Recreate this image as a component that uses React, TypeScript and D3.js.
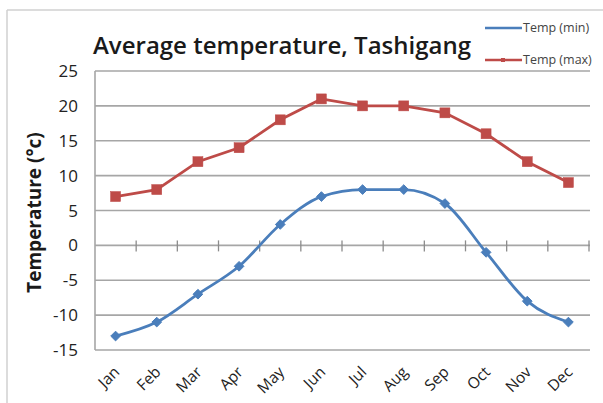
import React from "react";
import * as d3 from "d3";

const months = ["Jan","Feb","Mar","Apr","May","Jun","Jul","Aug","Sep","Oct","Nov","Dec"];
const tempMin = [-13,-11,-7,-3,3,7,8,8,6,-1,-8,-11];
const tempMax = [7,8,12,14,18,21,20,20,19,16,12,9];
const yTicks = [-15,-10,-5,0,5,10,15,20,25];
const seriesNames = ["Temp (min)","Temp (max)"];

const W = 603, H = 403;
const left = 95, right = 589, top = 71, bottom = 350;

export default function App() {
  const x = d3.scaleBand<string>().domain(months).range([left, right]).padding(0);
  const y = d3.scaleLinear().domain([-15, 25]).range([bottom, top]);
  const cx = (m: string) => (x(m) as number) + x.bandwidth() / 2;

  const lineMin = d3.line<number>().x((_, i) => cx(months[i])).y(d => y(d)).curve(d3.curveMonotoneX);
  const lineMax = d3.line<number>().x((_, i) => cx(months[i])).y(d => y(d));

  const blue = "#4a7ebb", red = "#be4b48";
  const font = "'Open Sans', 'DejaVu Sans', sans-serif";

  const boundaries = months.map(m => (x(m) as number) + x.bandwidth());

  return (
    <svg width={W} height={H} style={{ position: "absolute", left: 0, top: 0, background: "#fff" }} fontFamily={font}>
      <rect x={0} y={0} width={W} height={H} fill="#fff" />
      <line x1={7} y1={10} x2={W} y2={10} stroke="#d0d0d0" strokeWidth={1.5} />
      <line x1={7} y1={10} x2={7} y2={H} stroke="#d0d0d0" strokeWidth={1.5} />

      {yTicks.map(t => (
        <g key={t}>
          <line x1={left} x2={right + 1} y1={y(t)} y2={y(t)} stroke="#a6a6a6" strokeWidth={1.6} />
          <text x={78} y={y(t)} dy="0.36em" textAnchor="end" fontSize={17} fontWeight={500} fill="#222">{t}</text>
        </g>
      ))}
      <line x1={left} x2={left} y1={top} y2={bottom} stroke="#a6a6a6" strokeWidth={1.6} />
      {boundaries.map((b, i) => (
        <line key={i} x1={b} x2={b} y1={y(0) - 5} y2={y(0) + 6} stroke="#8c8c8c" strokeWidth={1.3} />
      ))}

      {months.map(m => (
        <text key={m} transform={`translate(${cx(m) + 5},${bottom + 23}) rotate(-45)`} textAnchor="end" fontSize={15.5} fill="#222">{m}</text>
      ))}

      <text transform={`translate(41,${(top + bottom) / 2 + 2}) rotate(-90)`} textAnchor="middle" fontSize={19} fontWeight={700} fill="#1a1a1a">Temperature (°c)</text>
      <text x={93} y={54} fontSize={24} fontWeight={600} fill="#1a1a1a">Average temperature, Tashigang</text>

      <path d={lineMin(tempMin) as string} fill="none" stroke={blue} strokeWidth={2.8} />
      <path d={lineMax(tempMax) as string} fill="none" stroke={red} strokeWidth={2.8} />
      {tempMin.map((v, i) => (
        <path key={i} d={d3.symbol(d3.symbolDiamond2, 60)() as string} transform={`translate(${cx(months[i])},${y(v)})`} fill={blue} stroke={blue} strokeWidth={1} />
      ))}
      {tempMax.map((v, i) => (
        <rect key={i} x={cx(months[i]) - 5} y={y(v) - 5} width={10} height={10} fill={red} stroke={red} strokeWidth={0.5} />
      ))}

      <line x1={485} x2={522} y1={28} y2={28} stroke={blue} strokeWidth={2.5} />
      <text x={523} y={28} dy="0.35em" fontSize={12.5} fill="#444">{seriesNames[0]}</text>
      <line x1={485} x2={522} y1={60} y2={60} stroke={red} strokeWidth={2.5} />
      <rect x={501} y={58} width={4} height={4} fill={red} />
      <text x={523} y={60} dy="0.35em" fontSize={12.5} fill="#444">{seriesNames[1]}</text>
    </svg>
  );
}
